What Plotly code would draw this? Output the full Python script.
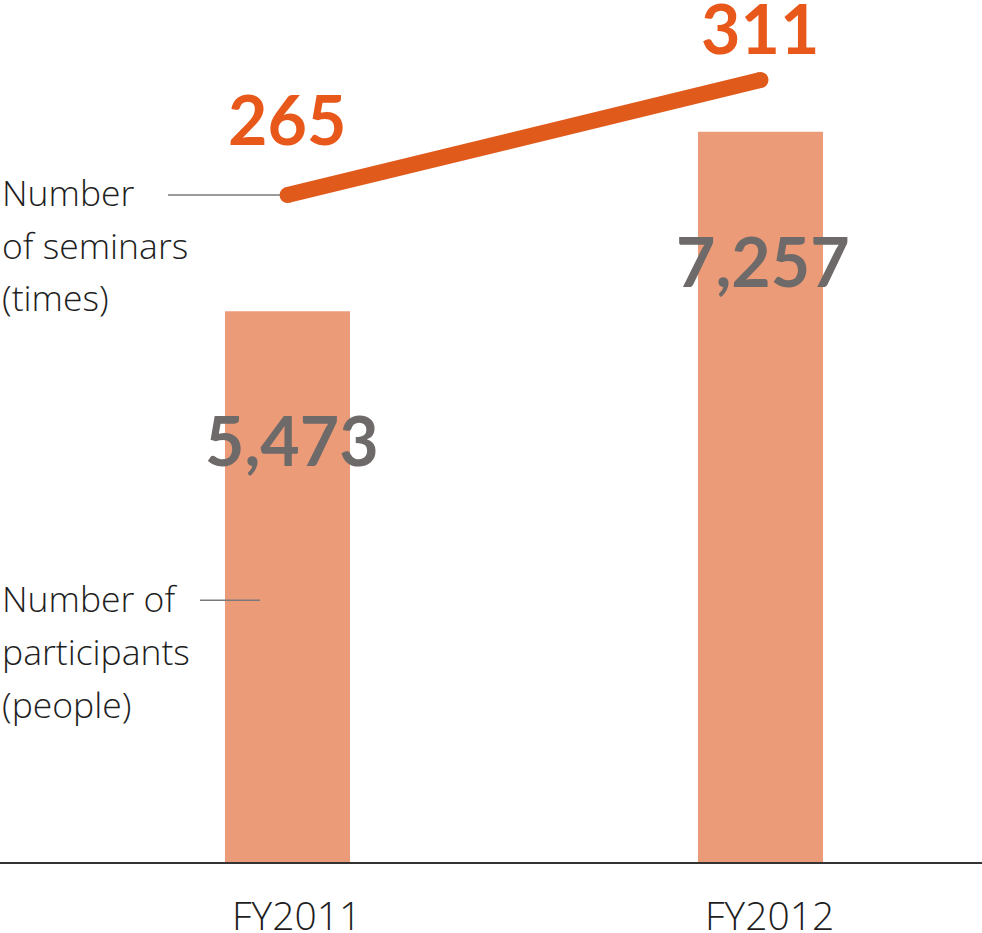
import plotly.graph_objects as go

# ---- data ----
categories = ["FY2011", "FY2012"]
participants = [5473, 7257]
seminars = [265, 311]
participant_labels = ["5,473", "7,257"]
seminar_labels = ["265", "311"]

W, H = 982, 933
BASE = 861.7  # pixel y of the baseline (plot bottom)

def py(pix):
    """pixel-from-top -> paper y"""
    return (BASE - pix) / BASE

BAR_COLOR = "#EC9B78"
LINE_COLOR = "#E05A1C"
ORANGE_TXT = "#E8581A"
GRAY_TXT = "#6E6A69"
DARK_TXT = "#1E1E1E"
NUM_FONT = "Lato"
TXT_FONT = "Open Sans"

fig = go.Figure()
fig.add_trace(go.Bar(
    x=[0, 1], y=participants, width=0.2643,
    marker=dict(color=BAR_COLOR, line=dict(width=0)),
    hoverinfo="skip",
))
fig.add_trace(go.Scatter(
    x=[0, 1], y=seminars, yaxis="y2", mode="lines+markers",
    line=dict(color=LINE_COLOR, width=16),
    marker=dict(color=LINE_COLOR, size=16, line=dict(width=0)),
    hoverinfo="skip",
))

ann = []
# value labels anchored to data
bar_shifts = [(4.5, -128), (2.5, -129)]
for i, (v, lab) in enumerate(zip(participants, participant_labels)):
    ann.append(dict(x=i, y=v, xref="x", yref="y", text=lab, showarrow=False,
                    xanchor="center", yanchor="middle",
                    xshift=bar_shifts[i][0], yshift=bar_shifts[i][1],
                    font=dict(family=NUM_FONT, size=68, color=GRAY_TXT, weight="bold")))
line_shifts = [(0, 77), (0, 53)]
for i, (v, lab) in enumerate(zip(seminars, seminar_labels)):
    ann.append(dict(x=i, y=v, xref="x", yref="y2", text=lab, showarrow=False,
                    xanchor="center", yanchor="middle",
                    xshift=line_shifts[i][0], yshift=line_shifts[i][1],
                    font=dict(family=NUM_FONT, size=68, color=ORANGE_TXT, weight="bold")))

# category labels
for i, c in enumerate(categories):
    ann.append(dict(x=i, y=py(914), xref="x", yref="paper", text=c, showarrow=False,
                    xanchor="center", yanchor="middle", xshift=9,
                    font=dict(family=TXT_FONT, size=39, color=DARK_TXT, weight=300)))

# series labels
sem_lines = ["Number", "of seminars", "(times)"]
par_lines = ["Number of", "participants", "(people)"]
for j, t in enumerate(sem_lines):
    ann.append(dict(x=0, y=py(192 + j * 52.5), xref="paper", yref="paper", text=t,
                    showarrow=False, xanchor="left", yanchor="middle",
                    font=dict(family=TXT_FONT, size=35.5, color=DARK_TXT, weight=300)))
for j, t in enumerate(par_lines):
    ann.append(dict(x=0, y=py(598 + j * 53), xref="paper", yref="paper", text=t,
                    showarrow=False, xanchor="left", yanchor="middle",
                    font=dict(family=TXT_FONT, size=35.5, color=DARK_TXT, weight=300)))

shapes = [
    dict(type="line", xref="paper", yref="paper", x0=168 / W, x1=280 / W,
         y0=py(195), y1=py(195), line=dict(color="#7A7A7A", width=1.5)),
    dict(type="line", xref="paper", yref="paper", x0=200 / W, x1=260 / W,
         y0=py(600), y1=py(600), line=dict(color="#7A7A7A", width=1.5)),
]

fig.update_layout(
    width=W, height=H,
    margin=dict(l=0, r=0, t=0, b=H - BASE),
    paper_bgcolor="white", plot_bgcolor="white",
    showlegend=False,
    xaxis=dict(range=[-0.6078, 1.4683], showgrid=False, zeroline=False,
               showticklabels=False, ticks="", showline=True,
               linecolor="#333333", linewidth=1.5, fixedrange=True),
    yaxis=dict(range=[0, 8567], visible=False, showgrid=False, zeroline=False,
               fixedrange=True),
    yaxis2=dict(range=[-1.7, 343], overlaying="y", visible=False,
                showgrid=False, zeroline=False, fixedrange=True),
    annotations=ann, shapes=shapes,
)
fig.write_html(
    "out.html",
    config={"displayModeBar": False, "staticPlot": True},
    post_script="document.body.style.margin='0';document.body.style.padding='0';"
                "document.body.style.overflow='hidden';",
)
